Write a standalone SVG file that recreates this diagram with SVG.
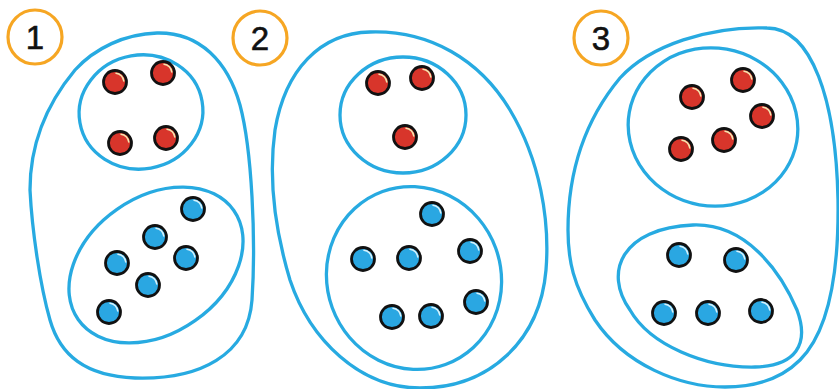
<svg xmlns="http://www.w3.org/2000/svg" width="839" height="389" viewBox="0 0 839 389">
<defs>
<style>
.loop{fill:none;stroke:#27aae1;stroke-width:3.3}
.badge circle{fill:#fff;stroke:#f6a623;stroke-width:3.2}
.badge text{font-family:"Liberation Sans",Arial,sans-serif;font-size:33px;fill:#111;stroke:#111;stroke-width:0.6;text-anchor:middle}
.r{fill:#d8352b;stroke:#111;stroke-width:2.8}
.b{fill:#2aa7e2;stroke:#111;stroke-width:2.8}
.hl{fill:none;stroke:#f4e6b0;stroke-width:1.6;stroke-linecap:round}
.hlb{fill:none;stroke:#d8f2fb;stroke-width:1.6;stroke-linecap:round}
</style>
<g id="rd"><circle class="r" r="11.5"/><path class="hl" d="M1,-8.8 A8.8,8.8 0 0 1 8.8,-1"/></g>
<g id="bd"><circle class="b" r="11.5"/><path class="hlb" d="M1,-8.8 A8.8,8.8 0 0 1 8.8,-1"/></g>
</defs>
<rect width="839" height="389" fill="#fff"/>

<g id="set1">
<g class="badge" id="badge1"><circle cx="35" cy="37" r="27"/><text x="35" y="49">1</text></g>
<path class="loop" d="M157,33 C200,32 228,62 240,105 C252,150 256,240 252,300 C248,355 200,380 135,378 C85,376 60,355 50,320 C40,285 32,230 30,190 C30,140 50,100 75,70 C95,48 125,34 157,33 Z"/>
<ellipse class="loop" cx="141" cy="112" rx="62" ry="57" transform="rotate(-10 141 112)"/>
<ellipse class="loop" cx="156" cy="265" rx="95" ry="68" transform="rotate(-35 156 265)"/>
<use href="#rd" x="115" y="82"/><use href="#rd" x="163" y="73"/><use href="#rd" x="120" y="143"/><use href="#rd" x="166" y="138"/>
<use href="#bd" x="193" y="209"/><use href="#bd" x="155" y="237"/><use href="#bd" x="117" y="263"/><use href="#bd" x="186" y="258"/><use href="#bd" x="148" y="285"/><use href="#bd" x="109" y="312"/>
</g>

<g id="set2">
<g class="badge" id="badge2"><circle cx="260" cy="38" r="27"/><text x="260" y="50">2</text></g>
<path class="loop" d="M370,32 C430,30 480,60 510,110 C540,160 550,220 546,270 C540,340 490,388 420,388 C360,388 310,340 290,280 C275,230 268,180 275,130 C285,70 320,33 370,32 Z"/>
<ellipse class="loop" cx="403" cy="115" rx="63" ry="58"/>
<ellipse class="loop" cx="414" cy="278" rx="87" ry="92" transform="rotate(-20 414 278)"/>
<use href="#rd" x="378" y="83"/><use href="#rd" x="422" y="78"/><use href="#rd" x="405" y="137"/>
<use href="#bd" x="432" y="214"/><use href="#bd" x="363" y="259"/><use href="#bd" x="409" y="258"/><use href="#bd" x="470" y="251"/><use href="#bd" x="476" y="302"/><use href="#bd" x="392" y="317"/><use href="#bd" x="431" y="316"/>
</g>

<g id="set3">
<g class="badge" id="badge3"><circle cx="601" cy="38" r="27"/><text x="601" y="50">3</text></g>
<path class="loop" d="M767,28 C812,28 836,100 838,200 C839,270 830,330 800,360 C780,380 755,387 725,387 C680,387 625,365 595,320 C573,285 568,260 568,230 C568,170 585,120 620,78 C650,45 710,26 767,28 Z"/>
<ellipse class="loop" cx="713" cy="127" rx="85" ry="79" transform="rotate(10 713 127)"/>
<path class="loop" d="M693,225 C745,223 780,270 797,310 C810,345 795,366 755,367 C705,368 650,345 630,310 C603,272 622,228 693,225 Z"/>
<use href="#rd" x="692" y="97"/><use href="#rd" x="743" y="80"/><use href="#rd" x="762" y="116"/><use href="#rd" x="724" y="140"/><use href="#rd" x="681" y="149"/>
<use href="#bd" x="679" y="255"/><use href="#bd" x="736" y="260"/><use href="#bd" x="664" y="313"/><use href="#bd" x="708" y="313"/><use href="#bd" x="761" y="311"/>
</g>
</svg>
